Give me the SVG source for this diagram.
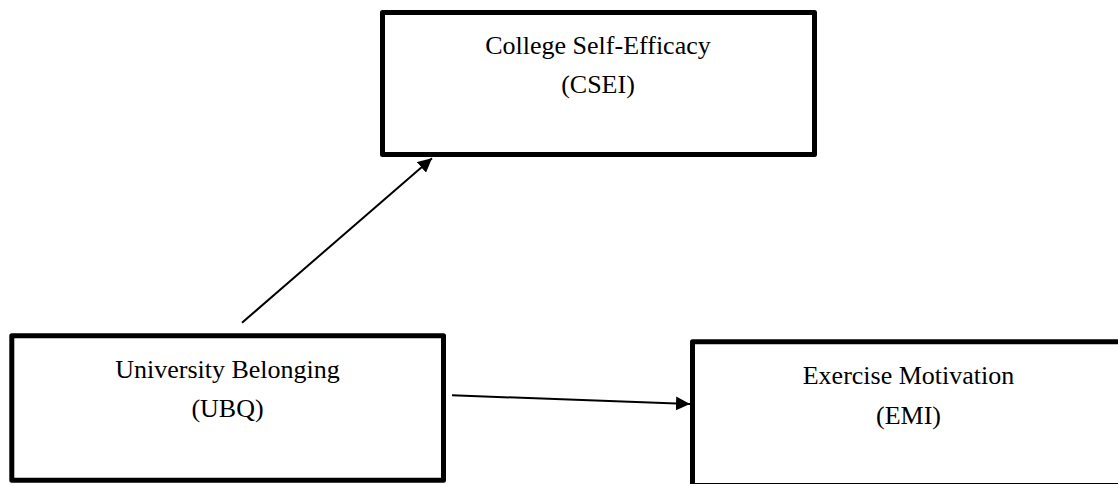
<svg xmlns="http://www.w3.org/2000/svg" width="1118" height="484" viewBox="0 0 1118 484">
  <style>
    .box { fill: #ffffff; stroke: #000000; stroke-width: 5; stroke-linejoin: round; }
    .lbl { font-family: "Liberation Serif", "Times New Roman", serif; font-size: 26px; fill: #000000; text-anchor: middle; }
    .edge { stroke: #000000; stroke-width: 2; fill: none; marker-end: url(#arrow); }
  </style>
  <defs>
    <marker id="arrow" markerUnits="userSpaceOnUse" markerWidth="14" markerHeight="14" viewBox="0 0 14 14" refX="14" refY="7" orient="auto">
      <path d="M0,0 L14,7 L0,14 Z" fill="#000000"/>
    </marker>
  </defs>
  <rect x="0" y="0" width="1118" height="484" fill="#ffffff"/>
  <g id="node-csei">
    <rect class="box" x="382.5" y="12.5" width="432" height="142"/>
    <text class="lbl" x="598" y="54">College Self-Efficacy</text>
    <text class="lbl" x="598" y="93">(CSEI)</text>
  </g>
  <g id="node-ubq">
    <rect class="box" x="11.8" y="335.8" width="431.7" height="144.5"/>
    <text class="lbl" x="227.5" y="378">University Belonging</text>
    <text class="lbl" x="227.5" y="417">(UBQ)</text>
  </g>
  <g id="node-emi">
    <rect class="box" x="692.5" y="341.7" width="440" height="143.8"/>
    <text class="lbl" x="908.5" y="384">Exercise Motivation</text>
    <text class="lbl" x="908.5" y="424">(EMI)</text>
  </g>
  <g id="connectors">
    <line class="edge" x1="242" y1="322.7" x2="432" y2="158.3"/>
    <line class="edge" x1="452" y1="395.3" x2="690" y2="404"/>
  </g>
</svg>
